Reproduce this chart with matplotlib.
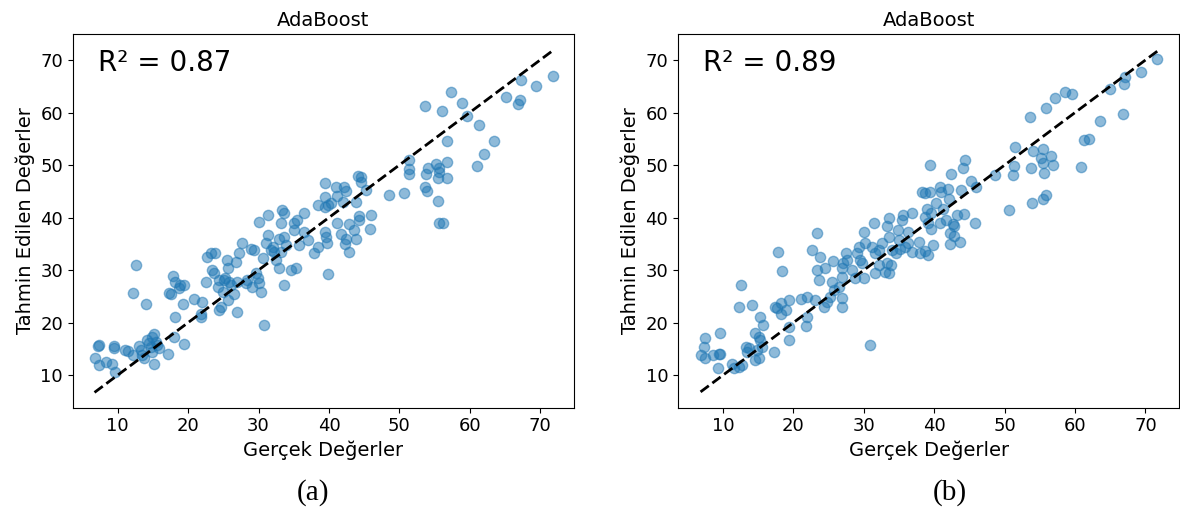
import matplotlib
matplotlib.use("Agg")
import matplotlib.pyplot as plt

# --- (a) AdaBoost, R2 = 0.87 ---
gercek_a = [6.7, 7.3, 7.2, 7.3, 8.3, 9.2, 9.4, 9.5, 9.6, 11.1, 11.5, 12.1, 12.6, 12.1,
            13.0, 13.3, 13.5, 13.7, 14.0, 14.2, 14.4, 14.7, 14.9, 15.2, 15.4, 14.9, 15.1,
            15.6, 15.9, 17.1, 18.0, 18.1, 19.4, 19.2, 17.5, 17.3, 17.8, 18.2, 18.7, 18.9,
            19.4, 20.9, 21.9, 21.8, 21.8, 22.7, 23.2, 23.8, 23.4, 23.7, 22.6, 24.2, 24.4,
            24.6, 24.4, 24.9, 25.1, 25.3, 25.6, 25.8, 25.5, 25.6, 26.1, 26.5, 26.8, 27.0,
            27.2, 27.0, 27.7, 28.2, 28.4, 28.9, 29.1, 29.4, 29.6, 29.9, 30.1, 30.3, 30.6,
            30.8, 31.0, 31.3, 31.7, 32.0, 32.2, 32.5, 32.9, 32.9, 33.2, 33.6, 33.9, 33.6,
            34.6, 35.1, 35.3, 35.8, 36.5, 37.0, 37.9, 38.4, 30.1, 33.2, 35.1, 35.5,
            31.3, 33.4, 33.6, 36.5, 38.4,
            67.3, 69.4, 71.8, 65.1, 67.1, 66.9, 57.3, 58.9, 53.7, 56.0, 59.6, 61.3, 56.7,
            63.5, 62.0, 61.0, 56.8, 55.2, 54.1, 55.6, 55.7, 55.5, 56.8, 53.8, 51.3, 51.4,
            51.4, 53.7, 53.9, 55.5, 50.7, 48.6, 46.0, 44.3, 45.3, 44.5, 44.1, 44.6, 42.2,
            41.0, 42.4, 39.4, 39.4, 41.2, 40.3, 42.0, 43.9, 39.8, 39.4,
            41.2, 42.9, 44.3, 45.9, 39.4, 39.6, 41.7, 42.4, 43.5, 43.8, 42.3, 39.7, 42.8,
            39.8, 55.7, 56.2]
tahmin_a = [13.2, 15.7, 15.5, 11.9, 12.5, 12.1, 15.5, 15.1, 10.6, 14.8, 14.6, 13.8, 30.9,
            25.7, 15.5, 14.8, 13.8, 13.2, 23.5, 16.7, 16.2, 15.4, 17.3, 17.9, 16.3, 14.4,
            12.1, 15.7, 15.1, 14.1, 17.3, 21.1, 16.0, 23.5, 25.4, 25.7, 28.9, 27.8, 26.5,
            27.1, 27.1, 24.4, 23.9, 21.7, 21.1, 32.5, 33.2, 33.2, 30.0, 29.4, 27.8, 26.8,
            28.1, 23.0, 22.4, 25.9, 28.1, 28.4, 30.3, 27.8, 32.0, 24.3, 27.1, 25.5, 31.6,
            22.1, 33.2, 27.8, 35.1, 27.5, 28.1, 34.1, 26.8, 33.8, 29.4, 28.4, 27.5, 25.9,
            32.2, 19.5, 35.1, 36.7, 33.8, 34.4, 33.5, 31.9, 30.3, 36.0, 33.5, 36.3, 34.8,
            27.1, 30.0, 37.6, 30.3, 34.8, 37.3, 35.7, 33.2, 34.4, 39.2, 38.9, 38.9, 39.5,
            40.5, 41.4, 40.8, 40.9, 42.4,
            66.1, 65.0, 66.9, 63.0, 62.4, 61.7, 64.0, 61.9, 61.2, 60.2, 59.3, 57.7, 54.6,
            54.6, 52.1, 49.8, 50.5, 50.2, 49.5, 49.4, 48.7, 47.6, 47.6, 48.3, 49.2, 48.3,
            50.9, 45.9, 45.1, 43.2, 44.6, 44.2, 40.5, 40.2, 45.2, 47.8, 47.9, 46.8, 45.9,
            45.9, 45.1, 46.6, 44.0, 44.1, 42.7, 43.0, 42.9, 42.4, 42.1,
            38.9, 38.8, 39.5, 37.9, 37.3, 36.3, 36.9, 36.0, 37.6, 36.0, 34.9, 35.1, 33.4,
            29.2, 39.0, 38.9]

# --- (b) AdaBoost, R2 = 0.89 ---
gercek_b = [33.6, 35.6, 36.8,
            71.7, 69.3, 67.1, 66.9, 64.9, 58.6, 59.5, 57.1, 55.8, 53.6, 63.5, 66.8, 61.2,
            62.0, 51.4, 54.0, 55.4, 55.1, 55.4, 56.6, 56.8, 60.9, 53.7, 51.3, 51.2, 55.6,
            48.6, 44.3, 44.1, 39.4, 42.4, 45.2, 45.9, 43.8, 42.0, 40.8, 41.0, 39.4, 38.7,
            42.1, 40.2, 39.0, 38.2, 41.3, 55.9, 55.5, 53.9, 50.6, 43.2, 44.2, 41.7, 38.7,
            39.6, 42.7, 40.8, 39.1,
            39.6, 42.8, 42.2, 42.8, 42.2, 43.6, 45.8, 38.7, 39.1, 39.8,
            31.4, 30.0, 33.3, 34.9, 36.3, 37.8, 35.4, 33.5, 32.6, 32.1, 31.6, 31.2, 30.2,
            29.3, 29.0, 29.5, 29.7, 28.3, 27.4, 27.1, 26.9, 27.6, 28.8, 30.0, 31.6, 32.1,
            33.3, 33.8, 33.5, 33.0, 34.0, 34.5, 35.2, 35.9, 36.3, 36.8, 35.0, 38.0, 23.3,
            22.6, 23.8, 25.6, 24.5, 23.3, 23.6, 25.5, 26.9, 26.4, 25.7, 25.2, 24.8, 24.3,
            26.9, 26.9, 23.1, 21.9, 21.0, 21.9, 21.8, 19.3, 18.2, 17.7, 17.4, 18.2, 19.0,
            17.8, 18.3, 12.6, 12.2, 14.1, 15.3, 15.6, 14.6, 15.1, 15.3, 15.5, 14.8, 15.1,
            14.6, 13.7, 13.2, 13.4, 12.7, 12.2, 11.3, 11.5, 9.3, 9.6, 7.5, 7.3, 6.8, 7.5,
            8.5, 9.4, 9.6, 17.2, 19.3, 19.4, 30.8]
tahmin_b = [40.0, 40.5, 40.9,
            70.2, 67.8, 66.8, 65.4, 64.4, 64.0, 63.5, 62.7, 60.8, 59.2, 58.3, 59.8, 54.8,
            54.9, 53.4, 52.7, 53.0, 51.3, 50.4, 51.7, 50.0, 49.7, 49.5, 49.8, 48.1, 48.4,
            48.1, 50.9, 49.4, 50.0, 48.3, 46.9, 45.9, 45.2, 45.4, 45.9, 44.9, 44.9, 44.6,
            43.5, 42.7, 41.7, 44.9, 41.7, 44.3, 43.5, 42.7, 41.4, 40.5, 40.7, 39.5, 40.1,
            40.8, 38.8, 38.9, 39.0,
            37.9, 38.3, 37.1, 36.5, 34.9, 35.3, 38.9, 33.7, 32.9, 34.8,
            38.9, 37.3, 38.3, 37.6, 37.3, 35.4, 39.5, 36.3, 35.1, 33.8, 33.2, 34.4, 35.1,
            34.4, 33.2, 31.9, 31.3, 30.0, 33.2, 31.3, 30.3, 31.9, 28.4, 28.4, 29.4, 30.9,
            31.3, 30.9, 29.4, 29.7, 33.8, 33.2, 34.1, 34.4, 35.1, 33.5, 35.7, 33.2, 37.0,
            33.8, 32.5, 31.8, 30.3, 30.0, 28.2, 27.8, 28.7, 26.8, 26.2, 24.9, 24.0, 22.9,
            24.6, 22.9, 24.3, 24.8, 24.4, 21.1, 19.3, 24.3, 23.8, 22.7, 22.9, 21.7, 22.4,
            33.4, 29.9, 27.1, 22.9, 23.3, 21.0, 19.6, 18.1, 17.3, 16.7, 15.4, 14.8, 13.2,
            12.9, 15.1, 15.4, 14.4, 11.9, 11.6, 12.1, 11.3, 11.3, 18.0, 17.0, 15.3, 13.8,
            13.2, 13.8, 14.0, 14.1, 14.4, 19.2, 16.7, 15.8]

paneller = [
    (gercek_a, tahmin_a, "R² = 0.87", "(a)"),
    (gercek_b, tahmin_b, "R² = 0.89", "(b)"),
]
eksen_yerleri = [[0.0616, 0.21, 0.4248, 0.7236], [0.5746, 0.21, 0.4248, 0.7236]]
etiket_x = [0.265, 0.805]

fig = plt.figure(figsize=(11.8, 5.16), dpi=100)

for i, (gercek, tahmin, r2, harf) in enumerate(paneller):
    ax = fig.add_axes(eksen_yerleri[i])
    ax.scatter(gercek, tahmin, s=55, alpha=0.5, color="#1f77b4")
    lo, hi = min(gercek), max(gercek)
    ax.plot([lo, hi], [lo, hi], "k--", lw=2)
    ax.set_xlim(3.6, 74.8)
    ax.set_ylim(3.8, 74.9)
    ax.set_xticks([10, 20, 30, 40, 50, 60, 70])
    ax.set_yticks([10, 20, 30, 40, 50, 60, 70])
    ax.tick_params(labelsize=13)
    ax.set_title("AdaBoost", fontsize=14)
    ax.set_xlabel("Gerçek Değerler", fontsize=14)
    ax.set_ylabel("Tahmin Edilen Değerler", fontsize=14)
    ax.text(0.05, 0.96, r2, transform=ax.transAxes, fontsize=20, va="top", ha="left")
    fig.text(etiket_x[i], 0.045, harf, fontsize=21, family="Liberation Serif",
             ha="center", va="center")

fig.savefig("out.png", dpi=100)
